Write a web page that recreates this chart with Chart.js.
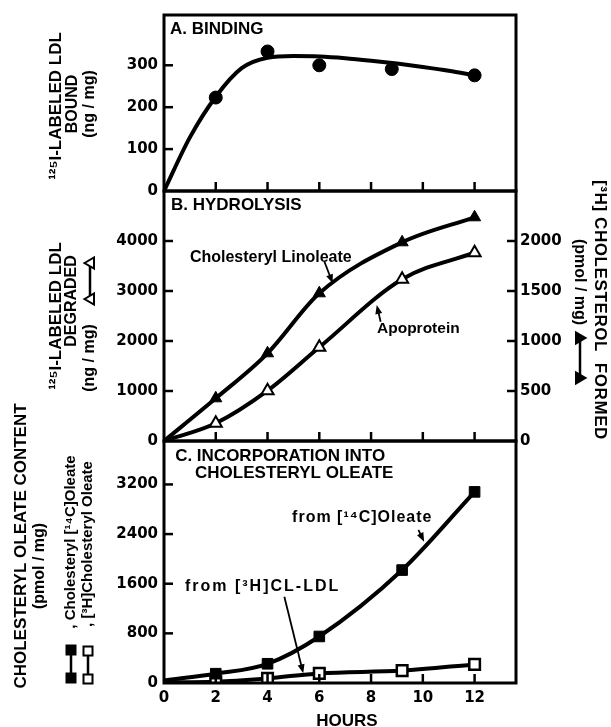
<!DOCTYPE html>
<html><head><meta charset="utf-8">
<script src="https://cdn.jsdelivr.net/npm/chart.js@4.4.0/dist/chart.umd.min.js"></script>
<style>
html,body{margin:0;padding:0;background:#fff;}
#wrap{position:relative;width:611px;height:727px;overflow:hidden;background:#fff}
canvas{position:absolute;left:0;top:0}
</style></head><body>
<div id="wrap">
<canvas id="cA" width="611" height="727"></canvas>
<canvas id="cB" width="611" height="727"></canvas>
<canvas id="cC" width="611" height="727"></canvas>
</div>
<script>
// ---------------- DATA ----------------
// Panel A: binding
const hoursA = [2, 4, 6, 8.8, 12];
const boundA = [223, 333, 300, 291, 276];            // ng/mg
const fitHoursA = [0, 1, 2, 3, 4, 5, 6, 7, 8, 9, 10, 11, 12];
const fitBoundA = [0, 128, 225, 293, 318, 322, 321, 317, 311, 304, 296, 287, 276];

// Panel B: hydrolysis
const hoursB = [0, 2, 4, 6, 9.2, 12];
const cholFormedB = [0, 427, 877, 1477, 1987, 2237];   // pmol/mg (right axis)
const ldlDegradedB = [0, 354, 1006, 1874, 3234, 3766]; // ng/mg (left axis)

// Panel C: incorporation into cholesteryl oleate
const hoursC = [0, 2, 4, 6, 9.2, 12];
const oleate14C = [40, 150, 310, 750, 1820, 3080];
const oleate3H = [10, 20, 75, 155, 200, 300];

// Tick values
const xTicks = [0, 2, 4, 6, 8, 10, 12];
const yTicksA = [0, 100, 200, 300];
const yTicksB = [0, 1000, 2000, 3000, 4000];
const yTicksBRight = [0, 500, 1000, 1500, 2000];
const yTicksC = [0, 800, 1600, 2400, 3200];

// ---------------- STYLE / LAYOUT ----------------
const W = 611, H = 727;
const PLOT_L = 164, PLOT_R = 516;
const YW = 70, YRW = 60, XH = 34;
const TICKFONT = {family: "'DejaVu Sans', sans-serif", size: 15, weight: 'bold'};
const LF = "'Liberation Sans', Arial, sans-serif";

function pts(xs, ys) { return xs.map((x, i) => ({x: x, y: ys[i]})); }

function xScale(showLabels) {
  return {
    type: 'linear', min: 0, max: 13.6, position: 'bottom',
    afterBuildTicks: s => { s.ticks = xTicks.map(v => ({value: v})); },
    afterFit: s => { s.height = XH; },
    grid: {display: false, drawTicks: false}, border: {display: false},
    ticks: {display: showLabels, font: TICKFONT, color: '#000', padding: 6, maxRotation: 0, autoSkip: false,
            callback: v => String(v)}
  };
}
function yScale(pos, max, ticks) {
  return {
    type: 'linear', min: 0, max: max, position: pos,
    afterBuildTicks: s => { s.ticks = ticks.map(v => ({value: v})); },
    afterFit: s => { s.width = pos === 'left' ? YW : YRW; },
    grid: {display: false, drawTicks: false}, border: {display: false},
    ticks: {font: TICKFONT, color: '#000', padding: pos === 'left' ? 6 : 4, autoSkip: false,
            callback: v => String(v)}
  };
}

// frame + inward ticks
const frameTicks = {
  id: 'frameTicks',
  afterDraw(chart) {
    const ctx = chart.ctx, a = chart.chartArea;
    ctx.save();
    ctx.strokeStyle = '#000';
    ctx.lineWidth = 3;
    ctx.strokeRect(a.left, a.top, a.right - a.left, a.bottom - a.top);
    ctx.lineWidth = 2.5;
    const L = 9;
    Object.values(chart.scales).forEach(s => {
      s.ticks.forEach(t => {
        if (t.value === 0) return;
        ctx.beginPath();
        if (s.isHorizontal()) {
          const x = s.getPixelForValue(t.value);
          ctx.moveTo(x, a.bottom); ctx.lineTo(x, a.bottom - L);
        } else {
          const y = s.getPixelForValue(t.value);
          if (s.options.position === 'left') { ctx.moveTo(a.left, y); ctx.lineTo(a.left + L, y); }
          else { ctx.moveTo(a.right, y); ctx.lineTo(a.right - L, y); }
        }
        ctx.stroke();
      });
    });
    ctx.restore();
  }
};

function drawSym(ctx, type, len) {
  ctx.lineWidth = 2.5;
  ctx.beginPath(); ctx.moveTo(-len / 2, 0); ctx.lineTo(len / 2, 0); ctx.stroke();
  [-len / 2, len / 2].forEach(cx => {
    ctx.beginPath();
    if (type.startsWith('sq')) {
      ctx.rect(cx - 4.5, -4.5, 9, 9);
    } else {
      ctx.moveTo(cx, -5.5); ctx.lineTo(cx + 5.5, 4); ctx.lineTo(cx - 5.5, 4); ctx.closePath();
    }
    ctx.fillStyle = type.endsWith('open') ? '#fff' : '#000';
    ctx.fill();
    ctx.lineWidth = 2; ctx.stroke();
  });
}

// annotations in data units + page-level side titles
const notes = {
  id: 'notes',
  afterDatasetsDraw(chart, args, opts) {
    const ctx = chart.ctx, xs = chart.scales.x;
    ctx.save();
    ctx.fillStyle = '#000'; ctx.strokeStyle = '#000';
    (opts.texts || []).forEach(t => {
      const ys = chart.scales[t.axis || 'y'];
      ctx.font = t.font;
      ctx.letterSpacing = (t.ls || 0) + 'px';
      ctx.textAlign = 'left'; ctx.textBaseline = 'middle';
      ctx.fillText(t.text, xs.getPixelForValue(t.h), ys.getPixelForValue(t.v));
    });
    ctx.letterSpacing = '0px';
    (opts.arrows || []).forEach(ar => {
      const ys = chart.scales[ar.axis || 'y'];
      const x1 = xs.getPixelForValue(ar.from[0]), y1 = ys.getPixelForValue(ar.from[1]);
      const x2 = xs.getPixelForValue(ar.to[0]), y2 = ys.getPixelForValue(ar.to[1]);
      const ang = Math.atan2(y2 - y1, x2 - x1);
      ctx.lineWidth = 1.8;
      ctx.beginPath(); ctx.moveTo(x1, y1);
      ctx.lineTo(x2 - 6 * Math.cos(ang), y2 - 6 * Math.sin(ang)); ctx.stroke();
      ctx.beginPath();
      ctx.moveTo(x2, y2);
      ctx.lineTo(x2 - 9 * Math.cos(ang) + 3.5 * Math.sin(ang), y2 - 9 * Math.sin(ang) - 3.5 * Math.cos(ang));
      ctx.lineTo(x2 - 9 * Math.cos(ang) - 3.5 * Math.sin(ang), y2 - 9 * Math.sin(ang) + 3.5 * Math.cos(ang));
      ctx.closePath(); ctx.fill();
    });
    (opts.side || []).forEach(it => {
      ctx.save();
      ctx.translate(it.x, it.y);
      ctx.rotate(it.rot * Math.PI / 180);
      if (it.sym) {
        drawSym(ctx, it.sym, it.len);
      } else {
        ctx.font = it.font;
        ctx.letterSpacing = (it.ls || 0) + 'px';
        ctx.textAlign = 'center'; ctx.textBaseline = 'middle';
        ctx.fillText(it.text, 0, 0);
      }
      ctx.restore();
    });
    ctx.restore();
  }
};

function baseOpts(top, bottom, hasRight) {
  return {
    responsive: false, animation: false, devicePixelRatio: 1,
    layout: {padding: {left: PLOT_L - YW, right: W - PLOT_R - (hasRight ? YRW : 0), top: top, bottom: H - bottom - XH}},
    plugins: {legend: {display: false}, tooltip: {enabled: false}},
    elements: {line: {cubicInterpolationMode: 'monotone', borderColor: '#000', borderWidth: 4},
               point: {borderColor: '#000'}}
  };
}

// ---------------- PANEL A ----------------
const optA = baseOpts(13, 191, false);
optA.scales = {x: xScale(false), y: yScale('left', 420, yTicksA)};
optA.plugins.notes = {
  texts: [{text: 'A. BINDING', h: 0.23, v: 387, font: 'bold 17px ' + LF}],
  side: [
    {text: '¹²⁵I-LABELED LDL', x: 56, y: 106, rot: -90, font: 'bold 17px ' + LF},
    {text: 'BOUND', x: 73, y: 104, rot: -90, font: 'bold 16px ' + LF},
    {text: '(ng / mg)', x: 90, y: 104, rot: -90, font: 'bold 16px ' + LF}
  ]
};
new Chart(document.getElementById('cA'), {
  type: 'line',
  data: {datasets: [
    {data: pts(fitHoursA, fitBoundA), pointRadius: 0, borderWidth: 4, borderColor: '#000'},
    {data: pts(hoursA, boundA), showLine: false, pointRadius: 6.5, pointStyle: 'circle',
     pointBackgroundColor: '#000', pointBorderColor: '#000'}
  ]},
  options: optA,
  plugins: [frameTicks, notes]
});

// ---------------- PANEL B ----------------
const optB = baseOpts(191, 441, true);
optB.scales = {x: xScale(false), y: yScale('left', 5000, yTicksB), y1: yScale('right', 2500, yTicksBRight)};
optB.plugins.notes = {
  texts: [
    {text: 'B. HYDROLYSIS', h: 0.27, v: 4720, font: 'bold 17px ' + LF},
    {text: 'Cholesteryl Linoleate', h: 1.0, v: 3660, font: 'bold 16px ' + LF},
    {text: 'Apoprotein', h: 8.23, v: 2240, font: 'bold 15.5px ' + LF}
  ],
  arrows: [
    {from: [6.2, 3586], to: [6.52, 3154]},
    {from: [8.37, 2386], to: [8.22, 2720]}
  ],
  side: [
    {text: '¹²⁵I-LABELED LDL', x: 56, y: 316, rot: -90, font: 'bold 17px ' + LF},
    {text: 'DEGRADED', x: 72, y: 301, rot: -90, font: 'bold 16px ' + LF},
    {text: '(ng / mg)', x: 90, y: 358, rot: -90, font: 'bold 16px ' + LF},
    {sym: 'tri-open', len: 36, x: 90, y: 281, rot: -90},
    {text: '[³H] CHOLESTEROL  FORMED', x: 600, y: 310, rot: 90, font: 'bold 17px ' + LF, ls: 0.6},
    {text: '(pmol / mg)', x: 579, y: 282, rot: 90, font: 'bold 16px ' + LF},
    {sym: 'tri-filled', len: 40, x: 580, y: 358, rot: 90}
  ]
};
const rB = hoursB.map(h => h === 0 ? 0 : 7);
new Chart(document.getElementById('cB'), {
  type: 'line',
  data: {datasets: [
    {data: pts(hoursB, cholFormedB), yAxisID: 'y1', pointRadius: rB, pointStyle: 'triangle',
     pointBackgroundColor: '#000', pointBorderWidth: 1},
    {data: pts(hoursB, ldlDegradedB), yAxisID: 'y', pointRadius: rB, pointStyle: 'triangle',
     pointBackgroundColor: '#fff', pointBorderWidth: 2}
  ]},
  options: optB,
  plugins: [frameTicks, notes]
});

// ---------------- PANEL C ----------------
const optC = baseOpts(441, 683, false);
optC.scales = {x: xScale(true), y: yScale('left', 3900, yTicksC)};
optC.plugins.notes = {
  texts: [
    {text: 'C. INCORPORATION INTO', h: 0.43, v: 3647, font: 'bold 17px ' + LF},
    {text: 'CHOLESTERYL OLEATE', h: 1.2, v: 3384, font: 'bold 17px ' + LF},
    {text: 'from [¹⁴C]Oleate', h: 4.95, v: 2659, font: 'bold 16px ' + LF, ls: 1},
    {text: 'from [³H]CL-LDL', h: 0.81, v: 1547, font: 'bold 16px ' + LF, ls: 2}
  ],
  arrows: [
    {from: [9.83, 2466], to: [10.05, 2277]},
    {from: [4.65, 1391], to: [5.38, 156]}
  ],
  side: [
    {text: 'CHOLESTERYL OLEATE CONTENT', x: 21, y: 546, rot: -90, font: 'bold 17px ' + LF},
    {text: '(pmol / mg)', x: 40, y: 566, rot: -90, font: 'bold 16px ' + LF},
    {sym: 'sq-filled', len: 28, x: 71, y: 664, rot: -90},
    {text: ', Cholesteryl [¹⁴C]Oleate', x: 71, y: 542, rot: -90, font: 'bold 15px ' + LF},
    {sym: 'sq-open', len: 28, x: 88, y: 665, rot: -90},
    {text: ', [³H]Cholesteryl Oleate', x: 88, y: 544, rot: -90, font: 'bold 15px ' + LF},
    {text: 'HOURS', x: 347, y: 721, rot: 0, font: 'bold 17px ' + LF}
  ]
};
const rC = hoursC.map(h => h === 0 ? 0 : 7.5);
new Chart(document.getElementById('cC'), {
  type: 'line',
  data: {datasets: [
    {data: pts(hoursC, oleate14C), pointRadius: rC, pointStyle: 'rect',
     pointBackgroundColor: '#000', pointBorderWidth: 1},
    {data: pts(hoursC, oleate3H), pointRadius: rC, pointStyle: 'rect',
     pointBackgroundColor: '#fff', pointBorderWidth: 2.5}
  ]},
  options: optC,
  plugins: [frameTicks, notes]
});
</script>
</body></html>
